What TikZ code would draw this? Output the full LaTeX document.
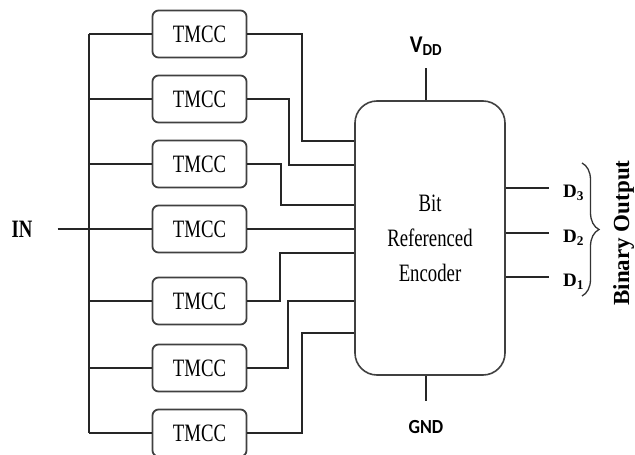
\documentclass[tikz,border=0pt]{standalone}
\usepackage{fontspec}
\setmainfont{Liberation Serif}
\newfontfamily\narrowfont{Liberation Serif}[FakeStretch=0.75]
\newfontfamily\pinfont{Carlito}[FakeStretch=0.9]
\usetikzlibrary{positioning,calc,decorations.pathreplacing}

\begin{document}
\begin{tikzpicture}[
    x=1pt, y=-1pt,
    wire/.style={draw=black!85, line width=1.4pt},
    tmcc/.style={draw=black!75, line width=1.8pt, rounded corners=6pt, minimum width=94pt, minimum height=47pt, inner sep=0pt, font=\narrowfont\fontsize{25}{28}\selectfont},
    encbox/.style={draw=black!75, line width=1.6pt, rounded corners=22pt, minimum width=150pt, minimum height=274pt, align=center, inner sep=0pt, font=\narrowfont\fontsize{25}{35}\selectfont},
    outlbl/.style={anchor=west, inner sep=0pt, font=\bfseries\fontsize{19}{22}\selectfont},
    pin/.style={inner sep=0pt, font=\pinfont\bfseries\fontsize{20}{24}\selectfont}
]
\useasboundingbox (0,0) rectangle (635,455);

% TMCC blocks
\foreach \i/\y in {1/34,2/99,3/164,4/229,5/301,6/368,7/433}
    \node[tmcc] (t\i) at (199.5,\y) {TMCC};

% encoder
\node[encbox] (enc) at (430,238) {Bit\\Referenced\\Encoder};

% input bus
\node[inner sep=0pt, font=\narrowfont\bfseries\fontsize{25}{28}\selectfont] (in) at (22,229) {IN};
\coordinate (bus) at (89,0);
\draw[wire] (t1.west -| bus) -- (t7.west -| bus);
\foreach \i in {1,2,3,5,6,7}
    \draw[wire] (t\i.west -| bus) -- (t\i.west);
\draw[wire, shorten <=25pt] (in.east |- t4.west) -- (t4.west);

% TMCC -> encoder
\draw[wire] (t1.east) -- (302,34) |- (enc.west |- 0,141);
\draw[wire] (t2.east) -- (289,99) |- (enc.west |- 0,165);
\draw[wire] (t3.east) -- (281,164) |- (enc.west |- 0,205);
\draw[wire] (t4.east) -- (enc.west |- t4.east);
\draw[wire] (t5.east) -- (280,301) |- (enc.west |- 0,253);
\draw[wire] (t6.east) -- (288,368) |- (enc.west |- 0,301);
\draw[wire] (t7.east) -- (302,433) |- (enc.west |- 0,333);

% supply
\node[pin, font=\pinfont\bfseries\fontsize{24}{28}\selectfont, anchor=base] (vdd) at (426,52) {V\textsubscript{DD}};
\coordinate (vtop) at (426,68);
\draw[wire] (vtop) -- (enc.north -| vtop);
\node[pin] (gnd) at (426,427) {GND};
\coordinate (gtop) at (426,401);
\draw[wire] (enc.south -| gtop) -- (gtop);

% outputs
\foreach \k/\y/\ly in {3/188/193,2/233/238,1/277/282} {
    \coordinate (o\k) at (549,\y);
    \draw[wire] (enc.east |- o\k) -- (o\k);
    \node[outlbl] (d\k) at (563,\ly) {D\textsubscript{\k}};
}
\draw[line width=1.3pt, black!80, decorate, decoration={brace, amplitude=17pt}] (582,163) -- (582,296);
\node[rotate=90, anchor=base, inner sep=0pt, font=\bfseries\fontsize{23}{26}\selectfont] (bout) at (629,233) {Binary Output};

\end{tikzpicture}
\end{document}
